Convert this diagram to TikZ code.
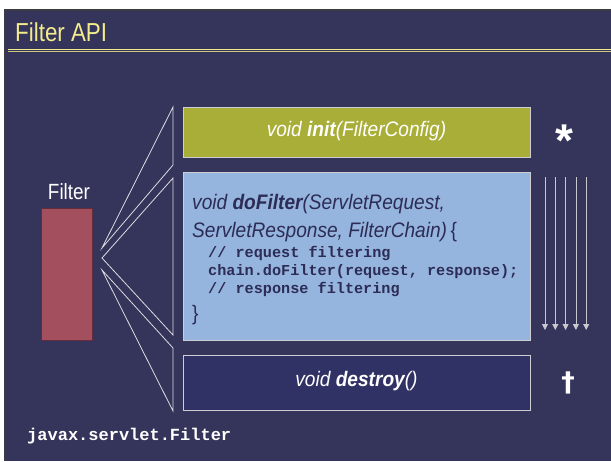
\documentclass[tikz,border=0pt]{standalone}
\usepackage{fontspec}
\setmainfont{Liberation Sans}
\newfontfamily\narrow[FakeStretch=0.86]{Liberation Sans}
\newfontfamily\sigfont[FakeStretch=0.91]{Liberation Sans}
\newfontfamily\codefont{Liberation Mono}
\newfontfamily\markfont{DejaVu Sans}
\usetikzlibrary{arrows.meta}

\definecolor{slidebg}{RGB}{53,52,90}
\definecolor{framegray}{RGB}{60,60,64}
\definecolor{titleyellow}{RGB}{242,236,140}
\definecolor{initfill}{RGB}{168,174,55}
\definecolor{dofill}{RGB}{149,181,223}
\definecolor{destroyfill}{RGB}{48,49,100}
\definecolor{navytext}{RGB}{44,44,85}
\definecolor{filterred}{RGB}{163,79,94}
\definecolor{filteredge}{RGB}{100,45,60}
\definecolor{edgegray}{RGB}{205,205,210}
\definecolor{linegray}{RGB}{220,220,225}
\definecolor{arrowgray}{RGB}{200,200,205}

\tikzset{
  apibox/.style={draw=edgegray, line width=0.9pt, anchor=north west,
    minimum width=347pt, inner sep=0pt, outer sep=0pt},
  fanline/.style={draw=linegray, line width=0.8pt, line join=miter},
  flow/.style={draw=arrowgray, line width=0.8pt,
    -{Triangle[width=6pt,length=6pt,fill=arrowgray]}},
  sig/.style={font=\sigfont\fontsize{21}{23}\selectfont\itshape},
  code/.style={font=\codefont\bfseries\fontsize{15.2}{16}\selectfont,
    text=navytext, anchor=base west, inner sep=0pt},
}

\begin{document}
\begin{tikzpicture}[x=1pt,y=-1pt]
\useasboundingbox (0,0) rectangle (611,461);
\fill[white] (0,0) rectangle (611,461);
\fill[framegray] (4,9) rectangle (611,461);
\fill[slidebg] (6,11) rectangle (611,461);

% title and its rule
\node[anchor=base west, inner sep=0pt, text=titleyellow,
  font=\narrow\fontsize{26}{28}\selectfont] (title) at (15,41) {Filter API};
\coordinate (ruleL) at (8,49);
\coordinate (ruleR) at (611,49);
\draw[titleyellow, line width=0.9pt] (ruleL) -- (ruleR);
\draw[titleyellow!80!slidebg, line width=0.9pt] ([yshift=-2.6pt]ruleL) -- ([yshift=-2.6pt]ruleR);

% the filter
\node[anchor=base, inner sep=0pt, text=white,
  font=\narrow\fontsize{22}{24}\selectfont] (flabel) at (69,199) {Filter};
\node[draw=filteredge, fill=filterred, line width=0.8pt, anchor=north west,
  minimum width=51pt, minimum height=132pt, inner sep=0pt] (filter) at (41,208) {};

% the three methods
\node[apibox, fill=initfill, minimum height=50pt] (init) at (183,107) {};
\node[apibox, fill=dofill, minimum height=168pt] (dofilter) at (183,172) {};
\node[apibox, fill=destroyfill, minimum height=55pt] (destroy) at (183,355) {};

\node[sig, text=white] (inittext) at ([yshift=1pt]init.center)
  {void \textbf{init}(FilterConfig)};
\node[sig, text=white] (destroytext) at ([yshift=1pt]destroy.center)
  {void \textbf{destroy}()};

\node[sig, text=navytext, anchor=base west, inner sep=0pt] (dl1) at (192,209)
  {void \textbf{doFilter}(ServletRequest,};
\node[sig, text=navytext, anchor=base west, inner sep=0pt] (dl2) at (192,237)
  {ServletResponse, FilterChain)\,\upshape\{};
\node[code] (cl1) at (208,257) {// request filtering};
\node[code] (cl2) at (208,275) {chain.doFilter(request, response);};
\node[code] (cl3) at (208,293) {// response filtering};
\node[sig, text=navytext, anchor=base west, inner sep=0pt] (dl3) at (192,320)
  {\upshape\}};

% fans from the filter to each method
\coordinate (apexA) at (102,248);
\coordinate (apexB) at (102,258);
\coordinate (apexC) at (102,270);
\coordinate (fanAt) at (173,107);
\coordinate (fanAb) at (173,165);
\coordinate (fanBt) at (173,178);
\coordinate (fanBb) at (173,335);
\coordinate (fanCt) at (173,348);
\coordinate (fanCb) at (173,411);
\draw[fanline] (fanAt) -- (apexA) -- (fanAb) -- cycle;
\draw[fanline] (fanBt) -- (apexB) -- (fanBb) -- cycle;
\draw[fanline] (fanCt) -- (apexC) -- (fanCb) -- cycle;

% life-cycle marks
\node[anchor=base, inner sep=0pt, text=white,
  font=\bfseries\fontsize{46}{46}\selectfont] (star) at (564,156) {*};
\node[anchor=base, inner sep=0pt, text=white,
  font=\markfont\bfseries\fontsize{27}{27}\selectfont] (dagger) at (568,391) {†};

% repeated request handling
\foreach \i/\x in {1/545,2/555.3,3/565.6,4/575.9,5/586.2}{
  \coordinate (rt\i) at (\x,177);
  \coordinate (rb\i) at (\x,330);
  \draw[flow] (rt\i) -- (rb\i);
}

% interface name
\node[anchor=base west, inner sep=0pt, text=white,
  font=\codefont\bfseries\fontsize{17}{18}\selectfont] (iface) at (27,440)
  {javax.servlet.Filter};
\end{tikzpicture}
\end{document}
